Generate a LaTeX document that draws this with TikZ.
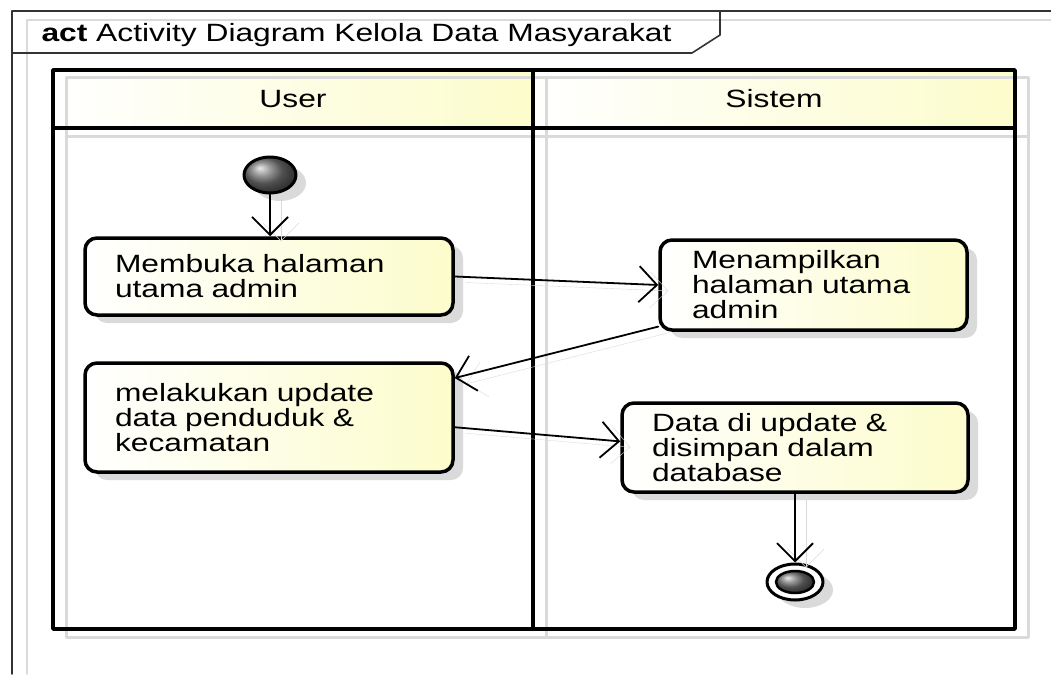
\documentclass[tikz,border=0pt]{standalone}
\usepackage{fontspec}
\setmainfont{Liberation Sans}[FakeStretch=1.27]
\usetikzlibrary{arrows.meta,shapes.geometric,shadows}
\definecolor{paleyellow}{RGB}{252,252,204}
\definecolor{shadegray}{RGB}{218,218,218}

\begin{document}
\begin{tikzpicture}[x=1pt,y=-1pt,line join=round,line cap=round,
    font=\fontsize{25}{25}\selectfont,
    act/.style={draw=black,line width=3.5pt,rounded corners=12pt,
        left color=white,right color=paleyellow,align=left,
        inner xsep=30pt,inner ysep=0pt,
        drop shadow={shadow xshift=10pt,shadow yshift=-8pt,fill=shadegray,opacity=1}},
    flow/.style={line width=1.8pt,-{Straight Barb[length=18pt,width=36pt]},
        preaction={draw=shadegray,transform canvas={shift={(11pt,-6pt)}}}},
    lane/.style={line width=3.5pt},
    laneshadow/.style={draw=shadegray,line width=3pt}]
    \useasboundingbox (0,0) rectangle (1051,674);
    % frame
    \draw[shadegray,line width=1.5pt] (27,674) -- (27,20) -- (1051,20);
    \draw[black!80,line width=1.6pt] (12,674) -- (12,11) -- (1051,11);
    \draw[black!80,line width=1.6pt] (12,53) -- (692,53) -- (720,35) -- (720,11);
    \node[anchor=base west] (title) at (38,42) {\textbf{act} Activity Diagram Kelola Data Masyarakat};
    % swimlanes
    \fill[left color=white,right color=paleyellow] (53,70) rectangle (533,128);
    \fill[left color=white,right color=paleyellow] (533,70) rectangle (1015,128);
    \draw[laneshadow] (66,78) rectangle (1028,637) (66,136) -- (1028,136) (546,78) -- (546,637);
    \draw[lane] (53,70) rectangle (1015,629) (53,128) -- (1015,128) (533,70) -- (533,629);
    \node (user) at (293,99) {User};
    \node (sistem) at (774,99) {Sistem};
    % nodes
    \node[ellipse,draw,line width=3pt,shading=ball,ball color=black!55,minimum width=52pt,minimum height=36pt,
        drop shadow={shadow xshift=10pt,shadow yshift=-8pt,fill=shadegray,opacity=1}] (start) at (270,175) {};
    \node[act,text width=308pt,minimum height=77pt] (buka) at (269,276.5) {Membuka halaman\\utama admin};
    \node[act,text width=243pt,inner xsep=32pt,minimum height=90pt] (tampil) at (813.5,285) {Menampilkan\\halaman utama\\admin};
    \node[act,text width=308pt,minimum height=109pt] (update) at (269,417.5) {melakukan update\\data penduduk \&\\kecamatan};
    \node[act,text width=286pt,minimum height=89pt] (simpan) at (795,447.5) {Data di update \&\\disimpan dalam\\database};
    \node[ellipse,draw,line width=3pt,fill=white,minimum width=56pt,minimum height=36pt,
        drop shadow={shadow xshift=10pt,shadow yshift=-8pt,fill=shadegray,opacity=1}] (end) at (795,582) {};
    \node[ellipse,draw,line width=2.5pt,shading=ball,ball color=black!55,minimum width=38pt,minimum height=22pt] (endin) at (795,582) {};
    % flows
    \draw[flow] (start) -- (start |- buka.north);
    \draw[flow] (buka.east) -- (tampil.west);
    \draw[flow] (tampil.195) -- (update.12);
    \draw[flow] (update.-3) -- (simpan.178);
    \draw[flow] (simpan.south) -- (end.north);
\end{tikzpicture}
\end{document}
